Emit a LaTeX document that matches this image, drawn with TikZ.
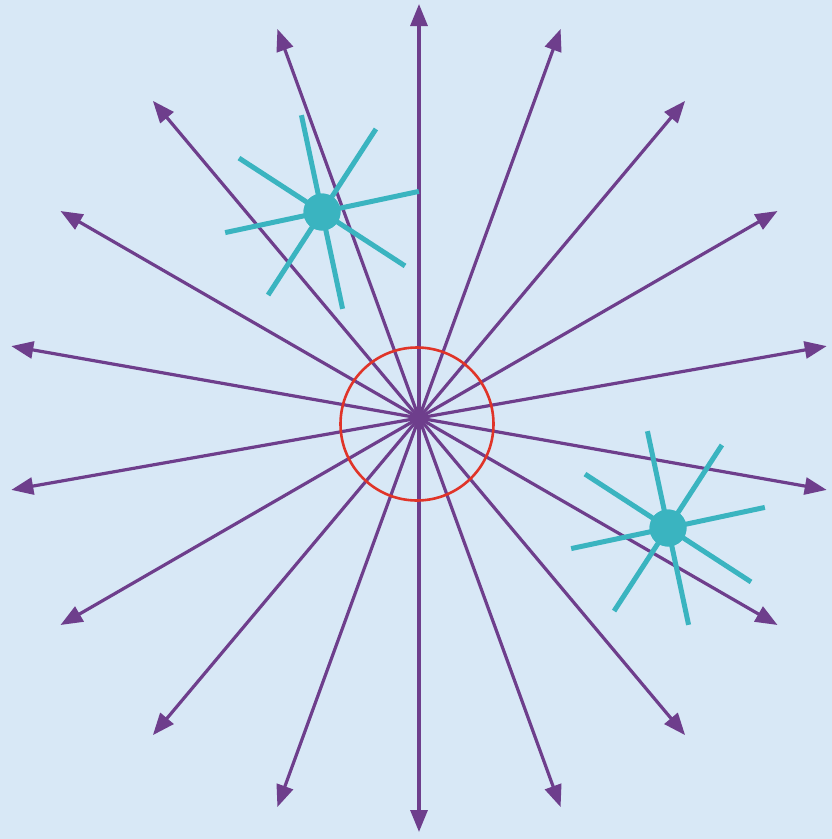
\documentclass[tikz,border=0pt]{standalone}
\usetikzlibrary{arrows.meta,calc}
\definecolor{bgblue}{RGB}{216,232,246}
\definecolor{raypurple}{RGB}{110,62,140}
\definecolor{starcyan}{RGB}{58,180,192}
\definecolor{ringred}{RGB}{224,52,40}
\tikzset{
  rayarrow/.style={draw=raypurple, line width=3.2pt, -{Triangle[length=22pt,width=17pt]}},
  starray/.style={draw=starcyan, line width=5pt},
  stardot/.style={circle, fill=starcyan, minimum size=37pt, inner sep=0pt},
  ringnode/.style={circle, draw=ringred, line width=2.6pt, minimum size=153pt, inner sep=0pt}
}
\begin{document}
\begin{tikzpicture}[x=1pt,y=-1pt]
\fill[bgblue] (0,0) rectangle (832,839);
\useasboundingbox (0,0) rectangle (832,839);
\coordinate (c) at (419,418);
\foreach \k in {0,...,17} {
  \coordinate (e\k) at ($(c)+(90+20*\k:414)$);
  \draw[rayarrow] (c) -- (e\k);
}
\node[ringnode] (ring) at (417,424) {};
\node[stardot] (s1) at (322,212) {};
\node[stardot] (s2) at (668,528) {};
\foreach \s in {s1,s2} {
  \foreach \a in {348,303,258,213,168,123,78,33} {
    \coordinate (\s r\a) at ($(\s.center)+(\a:99)$);
    \draw[starray] (\s.center) -- (\s r\a);
  }
  \node[stardot] at (\s.center) {};
}
\end{tikzpicture}
\end{document}
